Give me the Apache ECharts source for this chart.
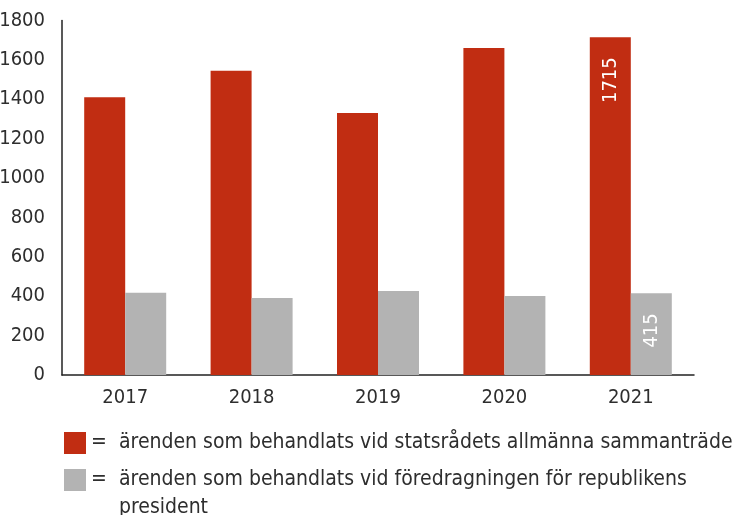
<!DOCTYPE html>
<html>
<head>
<meta charset="utf-8">
<script src="https://cdn.jsdelivr.net/npm/echarts@6/dist/echarts.min.js"></script>
<style>
  html, body { margin: 0; padding: 0; background: #fff; }
  #chart { width: 736px; height: 515px; }
</style>
</head>
<body>
<div id="chart"></div>
<script>
// data
const years = ['2017', '2018', '2019', '2020', '2021']
const allmanna = [1410, 1545, 1330, 1660, 1715]
const foredragning = [418, 391, 426, 401, 415]
const yTicks = { min: 0, max: 1800, interval: 200 }
const names = [
  'ärenden som behandlats vid statsrådets allmänna sammanträde',
  'ärenden som behandlats vid föredragningen för republikens',
  'president'
]

const font = '"Liberation Sans Narrow", "DejaVu Sans Condensed", Roboto, sans-serif'
const textColor = '#2e2e2e'

// only the last bar gets its value written in it
function withLastLabel(values) {
  return values.map((v, i) => i === values.length - 1 ? { value: v, label: { show: true } } : v)
}

const barLabel = {
  show: false,
  position: 'insideTop',
  rotate: 90,
  align: 'right',
  verticalAlign: 'middle',
  distance: 20,
  color: '#fff',
  fontFamily: font,
  fontSize: 20
}

const legendBase = {
  orient: 'vertical',
  left: 64,
  padding: 0,
  itemWidth: 22,
  itemHeight: 22,
  icon: 'rect',
  selectedMode: false,
  formatter: n => '{eq|=}{t|' + n + '}',
  textStyle: {
    rich: {
      eq: { width: 28, fontFamily: font, fontSize: 21, color: textColor },
      t: { fontFamily: font, fontSize: 21, color: textColor }
    }
  }
}

const option = {
  animation: false,
  grid: { left: 62, right: 42, top: 20.5, bottom: 140, outerBoundsMode: 'none', containLabel: false },
  legend: [
    Object.assign({}, legendBase, { top: 432, data: [names[0]] }),
    Object.assign({}, legendBase, { top: 469, data: [names[1]] })
  ],
  graphic: [
    {
      type: 'text',
      left: 119,
      top: 497,
      style: { text: names[2], fontFamily: font, fontSize: 21, fill: textColor }
    }
  ],
  xAxis: {
    type: 'category',
    data: years,
    axisTick: { show: false },
    axisLine: { lineStyle: { color: '#222', width: 1.5 } },
    axisLabel: { color: textColor, fontFamily: font, fontSize: 20, margin: 13 }
  },
  yAxis: {
    type: 'value',
    min: yTicks.min,
    max: yTicks.max,
    interval: yTicks.interval,
    splitLine: { show: false },
    axisTick: { show: false },
    axisLine: { show: true, lineStyle: { color: '#222', width: 1.5 } },
    axisLabel: {
      color: textColor, fontFamily: font, fontSize: 20, margin: 17,
      padding: [4, 0, 0, 0],
      formatter: v => String(v)
    }
  },
  series: [
    {
      name: names[0],
      type: 'bar',
      barWidth: 41,
      barGap: '0%',
      itemStyle: { color: '#c12d12' },
      label: barLabel,
      data: withLastLabel(allmanna)
    },
    {
      name: names[1],
      type: 'bar',
      barWidth: 41,
      barGap: '0%',
      itemStyle: { color: '#b3b3b3' },
      label: barLabel,
      data: withLastLabel(foredragning)
    }
  ]
}

const chart = echarts.init(document.getElementById('chart'))
chart.setOption(option)
</script>
</body>
</html>
